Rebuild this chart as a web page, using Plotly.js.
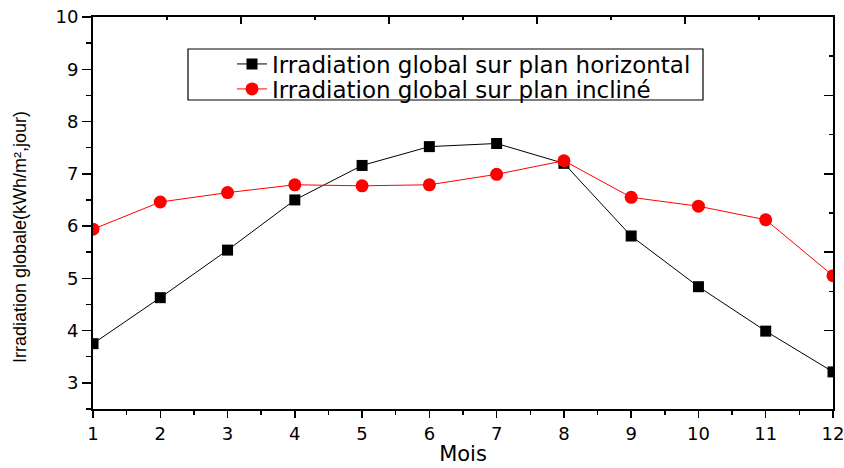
<!DOCTYPE html>
<html>
<head>
<meta charset="utf-8">
<script src="https://cdn.plot.ly/plotly-3.0.1.min.js"></script>
<style>html,body{margin:0;padding:0;background:#fff;}#chart{width:844px;height:468px;}</style>
</head>
<body>
<div id="chart"></div>
<script>
// ---- data ----
const months = [1, 2, 3, 4, 5, 6, 7, 8, 9, 10, 11, 12];
const horizontal = [3.75, 4.63, 5.54, 6.50, 7.16, 7.52, 7.58, 7.20, 5.81, 4.84, 3.99, 3.21];
const incline = [5.94, 6.46, 6.64, 6.79, 6.77, 6.79, 6.99, 7.25, 6.55, 6.38, 6.12, 5.05];
const nameHorizontal = "Irradiation global sur plan horizontal";
const nameIncline = "Irradiation global sur plan incliné";
const xTitle = "Mois";
const yTitle = "Irradiation globale(kWh/m²,jour)";

const FONT = "DejaVu Sans, Liberation Sans, Arial, sans-serif";
const FONT_ARIAL = "Liberation Sans, Arial, sans-serif";
const xRange = [1, 12];
const yRange = [2.5, 10];

// mirrored top/right axes split their range in 10 intervals (alternating long/short ticks)
function splitTicks(r) {
  const major = [], minor = [];
  const step = (r[1] - r[0]) / 10;
  for (let i = 0; i <= 10; i++) {
    const v = +(r[0] + i * step).toFixed(4);
    (i % 2 === 0 ? major : minor).push(v);
  }
  return {major, minor};
}
const topT = splitTicks(xRange);
const rightT = splitTicks(yRange);

const traces = [
  {
    x: months, y: horizontal, name: nameHorizontal, type: "scatter", mode: "lines+markers",
    line: {color: "#000000", width: 1},
    marker: {symbol: "square", size: 11, color: "#000000"},
    legend: "legend"
  },
  {
    x: months, y: incline, name: nameIncline, type: "scatter", mode: "lines+markers",
    line: {color: "#ff0000", width: 1},
    marker: {symbol: "circle", size: 13, color: "#ff0000"},
    legend: "legend2"
  },
  {
    x: [], y: [], xaxis: "x2", yaxis: "y2", showlegend: false, hoverinfo: "skip", type: "scatter"
  }
];

const L = 93, R = 833, T = 17, B = 409;
const W = R - L, H = B - T;
const px = v => (v - L) / W;
const py = v => (B - v) / H;

const legendBase = {
  xanchor: "left", yanchor: "middle",
  bgcolor: "rgba(0,0,0,0)", borderwidth: 0,
  font: {family: FONT, size: 23, color: "#000000"},
  itemwidth: 30
};

const layout = {
  width: 844, height: 468,
  margin: {l: L, r: 844 - R, t: T, b: 468 - B, pad: 0},
  paper_bgcolor: "#ffffff", plot_bgcolor: "#ffffff",
  font: {family: FONT, color: "#000000", size: 18},
  showlegend: true,
  legend: Object.assign({}, legendBase, {x: px(232), y: py(64)}),
  legend2: Object.assign({}, legendBase, {x: px(232), y: py(89)}),
  xaxis: {
    range: xRange, dtick: 1, tick0: 1,
    showgrid: false, zeroline: false,
    showline: true, linecolor: "#000000", linewidth: 2,
    ticks: "outside", ticklen: 7, tickwidth: 1.5, tickcolor: "#000000",
    tickfont: {family: FONT, size: 18, color: "#000000"},
    ticklabeloverflow: "allow",
    minor: {dtick: 0.5, ticks: "outside", ticklen: 4, tickwidth: 1.5, tickcolor: "#000000", showgrid: false},
    title: {text: xTitle, font: {family: FONT, size: 21, color: "#000000"}, standoff: 4},
    fixedrange: true
  },
  yaxis: {
    range: yRange, dtick: 1, tick0: 0,
    showgrid: false, zeroline: false,
    showline: true, linecolor: "#000000", linewidth: 2,
    ticks: "outside", ticklen: 9, tickwidth: 1.5, tickcolor: "#000000",
    tickfont: {family: FONT, size: 18, color: "#000000"},
    ticklabeloverflow: "allow",
    minor: {dtick: 0.5, ticks: "outside", ticklen: 5, tickwidth: 1.5, tickcolor: "#000000", showgrid: false},
    fixedrange: true
  },
  xaxis2: {
    overlaying: "x", side: "top", anchor: "y2", range: xRange,
    showgrid: false, zeroline: false, showticklabels: false,
    showline: true, linecolor: "#000000", linewidth: 2,
    tickmode: "array", tickvals: topT.major, ticks: "inside", ticklen: 7, tickwidth: 1.5, tickcolor: "#000000",
    minor: {tickmode: "array", tickvals: topT.minor, ticks: "inside", ticklen: 3, tickwidth: 1.5, tickcolor: "#000000", showgrid: false},
    fixedrange: true
  },
  yaxis2: {
    overlaying: "y", side: "right", anchor: "x2", range: yRange,
    showgrid: false, zeroline: false, showticklabels: false,
    showline: true, linecolor: "#000000", linewidth: 2,
    tickmode: "array", tickvals: rightT.major, ticks: "inside", ticklen: 9, tickwidth: 1.5, tickcolor: "#000000",
    minor: {tickmode: "array", tickvals: rightT.minor, ticks: "inside", ticklen: 4, tickwidth: 1.5, tickcolor: "#000000", showgrid: false},
    fixedrange: true
  },
  shapes: [
    {type: "rect", xref: "paper", yref: "paper",
     x0: px(188), x1: px(703), y0: py(100), y1: py(49),
     line: {color: "#000000", width: 1.2}, fillcolor: "rgba(0,0,0,0)"}
  ],
  annotations: [
    {text: yTitle, xref: "paper", yref: "paper", x: px(20), y: py(237),
     xanchor: "center", yanchor: "middle", textangle: -90, showarrow: false,
     font: {family: FONT_ARIAL, size: 18, color: "#000000"}}
  ]
};

Plotly.newPlot("chart", traces, layout, {displayModeBar: false, staticPlot: true});
</script>
</body>
</html>
